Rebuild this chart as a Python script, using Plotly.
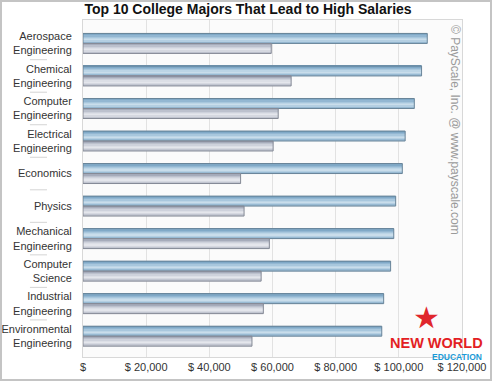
import plotly.graph_objects as go

# ---- data ----
majors = ["Aerospace<br>Engineering", "Chemical<br>Engineering", "Computer<br>Engineering",
          "Electrical<br>Engineering", "Economics", "Physics", "Mechanical<br>Engineering",
          "Computer<br>Science", "Industrial<br>Engineering", "Environmental<br>Engineering"]
mid_career = [109000, 107200, 104900, 102000, 101100, 99000, 98400, 97400, 95200, 94600]
starting = [59600, 65900, 61800, 60200, 49900, 51000, 59000, 56400, 57100, 53500]
tick_vals = [0, 20000, 40000, 60000, 80000, 100000, 120000]
tick_text = ["$", "$ 20,000", "$ 40,000", "$ 60,000", "$ 80,000", "$ 100,000", "$ 120,000"]

FONT = "Liberation Sans, Arial, Helvetica, sans-serif"

# ---- styling ----
bar_h = 0.307
blue_grad = ["#6f9bbb", "#80a9c7", "#93b7d2", "#a8c7dd", "#bcd5e6", "#c9ddeb", "#b4cfe2", "#98bad3"]
gray_grad = ["#9097a8", "#a6acbb", "#bcc1cd", "#ced2dc", "#dcdfe6", "#e4e6ec", "#d5d8e0", "#c2c6d1"]

fig = go.Figure()

def add_gradient_bar(values, base, colors, outline):
    n = len(colors)
    h = bar_h / n
    for i, c in enumerate(colors):
        fig.add_trace(go.Bar(x=values, y=majors, orientation="h", width=h * 1.02,
                             offset=base + i * h, marker=dict(color=c, line=dict(width=0)),
                             showlegend=False, hoverinfo="skip"))
    fig.add_trace(go.Bar(x=values, y=majors, orientation="h", width=bar_h, offset=base,
                         marker=dict(color="rgba(0,0,0,0)", line=dict(color=outline, width=1)),
                         showlegend=False))

add_gradient_bar(mid_career, -bar_h, blue_grad, "#6a8599")
add_gradient_bar(starting, 0, gray_grad, "#858a96")

L, R, T, B = 83, 30, 20, 24
W, H = 492, 381
pw, ph = W - L - R, H - T - B

shapes = []
# separators between category labels
for i in range(len(majors) - 1):
    shapes.append(dict(type="line", xref="paper", yref="y", x0=-0.14, x1=-0.095,
                       y0=i + 0.5, y1=i + 0.5, line=dict(color="#d4d4d4", width=1)))
# outer frame
shapes.append(dict(type="rect", xref="paper", yref="paper",
                   x0=(1 - L) / pw, x1=(W - 1 - L) / pw,
                   y0=-(H - 1 - (H - B)) / ph, y1=((H - B) - 1) / ph,
                   line=dict(color="#c4c4c4", width=2), layer="above"))

annotations = [
    dict(text="© PayScale, Inc. @ www.payscale.com", textangle=90, xref="paper", yref="paper",
         x=(455 - L) / pw, y=((H - B) - 23) / ph, xanchor="center", yanchor="top",
         showarrow=False, font=dict(family=FONT, size=12, color="#9a9a9a")),
    dict(text="★", xref="paper", yref="paper", x=(426 - L) / pw, y=((H - B) - 317) / ph,
         xanchor="center", yanchor="middle", showarrow=False,
         font=dict(family="DejaVu Sans", size=30, color="#e0262c")),
    dict(text="<b>NEW WORLD</b>", xref="paper", yref="paper", x=(436 - L) / pw,
         y=((H - B) - 343) / ph, xanchor="center", yanchor="middle", showarrow=False,
         borderpad=0, font=dict(family=FONT, size=14.5, color="#e31e24")),
    dict(text="EDUCATION", xref="paper", yref="paper", x=(457 - L) / pw,
         y=((H - B) - 357) / ph, xanchor="center", yanchor="middle", showarrow=False,
         borderpad=0, font=dict(family=FONT, size=8.5, weight=700, color="#1b9ad6")),
]

fig.update_layout(
    width=W, height=H,
    margin=dict(l=L, r=R, t=T, b=B, pad=0, autoexpand=False),
    paper_bgcolor="white", plot_bgcolor="#fbfbfb",
    barmode="overlay",
    title=dict(text="<b>Top 10 College Majors That Lead to High Salaries</b>",
               x=248 / W, xref="container", xanchor="center",
               y=1 - 9 / H, yref="container", yanchor="middle",
               font=dict(family=FONT, size=14, color="#111")),
    font=dict(family=FONT, size=11, color="#333"),
    shapes=shapes, annotations=annotations,
)
fig.update_xaxes(range=[0, 120000], tickvals=tick_vals, ticktext=tick_text,
                 showgrid=True, gridcolor="#e2e2e2", gridwidth=1, zeroline=False,
                 showline=True, mirror=True, linecolor="#d8d8d8", linewidth=1,
                 ticks="", tickfont=dict(size=11, color="#333"), fixedrange=True,
                 automargin=False)
fig.update_yaxes(type="category", categoryorder="array", categoryarray=majors,
                 range=[9.64, -0.72], showgrid=False, zeroline=False,
                 showline=True, mirror=True, linecolor="#d8d8d8", linewidth=1,
                 ticks="", ticklabelstandoff=8, tickfont=dict(size=11, color="#333"),
                 automargin=False)

fig.write_html("out.html", config={"displayModeBar": False},
               post_script="document.body.style.margin='0';document.body.style.overflow='hidden';")
